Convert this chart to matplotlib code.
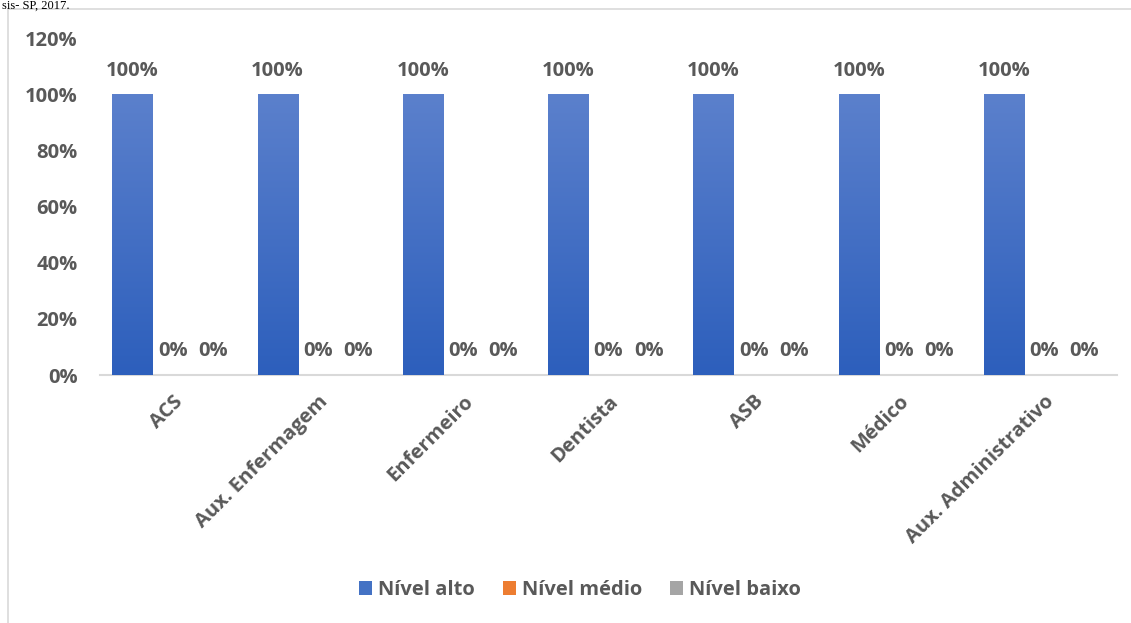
import numpy as np
import matplotlib
matplotlib.use("Agg")
import matplotlib.pyplot as plt
from matplotlib.colors import LinearSegmentedColormap
from matplotlib.patches import Rectangle

categories = ["ACS", "Aux. Enfermagem", "Enfermeiro", "Dentista", "ASB", "Médico", "Aux. Administrativo"]
series = ["Nível alto", "Nível médio", "Nível baixo"]
alto = [100, 100, 100, 100, 100, 100, 100]
medio = [0, 0, 0, 0, 0, 0, 0]
baixo = [0, 0, 0, 0, 0, 0, 0]
colors = ["#4472c4", "#ed7d31", "#a5a5a5"]

plt.rcParams["font.family"] = ["Open Sans", "DejaVu Sans"]
txt = "#595959"
fs = 14.5

fig = plt.figure(figsize=(11.31, 6.23), dpi=100)
ax = fig.add_axes([0.0884, 0.398, 0.899, 0.541])

x = np.arange(len(categories))
w = 0.277
grad = LinearSegmentedColormap.from_list("g", ["#2d5fbc", "#5b80cc"])
for i, (vals, name, c) in enumerate(zip([alto, medio, baixo], series, colors)):
    pos = x + (i - 1) * w
    bars = ax.bar(pos, vals, width=w, color=c, label=name, zorder=2)
    for b, v in zip(bars, vals):
        if i == 0 and v > 0:
            im = ax.imshow(np.linspace(0, 1, 100).reshape(-1, 1), cmap=grad, aspect="auto",
                           extent=[b.get_x(), b.get_x() + b.get_width(), 0, v],
                           origin="lower", zorder=3)
            im.set_clip_path(b)
        ax.annotate(f"{v}%", (b.get_x() + b.get_width() / 2, v), xytext=(0, 17),
                    textcoords="offset points", ha="center", va="center",
                    fontsize=fs, fontweight="bold", color=txt)

ax.set_xlim(-0.5, len(categories) - 0.5)
ax.set_ylim(0, 120)
ax.set_yticks(range(0, 121, 20))
ax.set_yticklabels([f"{t}%" for t in range(0, 121, 20)])
ax.set_xticks(x)
ax.set_xticklabels(categories, rotation=45, ha="right", rotation_mode="anchor")
for lab in ax.get_xticklabels() + ax.get_yticklabels():
    lab.set_fontsize(fs)
    lab.set_fontweight("bold")
    lab.set_color(txt)
ax.tick_params(length=0)
ax.tick_params(axis="x", pad=12)
ax.tick_params(axis="y", pad=16)
for s in ["top", "right", "left"]:
    ax.spines[s].set_visible(False)
ax.spines["bottom"].set_color("#d9d9d9")
ax.spines["bottom"].set_linewidth(1.5)

leg = ax.legend(loc="center", frameon=False, ncol=3, handlelength=0.65, handleheight=0.65,
                handletextpad=0.3, columnspacing=1.4, prop={"size": fs, "weight": "bold"})
leg.set_bbox_to_anchor((580 / 1131, 1 - 590 / 623), transform=fig.transFigure)
for t in leg.get_texts():
    t.set_color(txt)

fig.add_artist(Rectangle((8 / 1131, -0.1), 1.2, 1 - 9 / 623 + 0.1, transform=fig.transFigure,
                         fill=False, edgecolor="#d9d9d9", linewidth=1.2))
fig.text(0.002, 1.0, "sis- SP, 2017.", family="Liberation Serif", fontsize=9,
         va="top", ha="left", color="black")

fig.savefig("out.png", dpi=100)
